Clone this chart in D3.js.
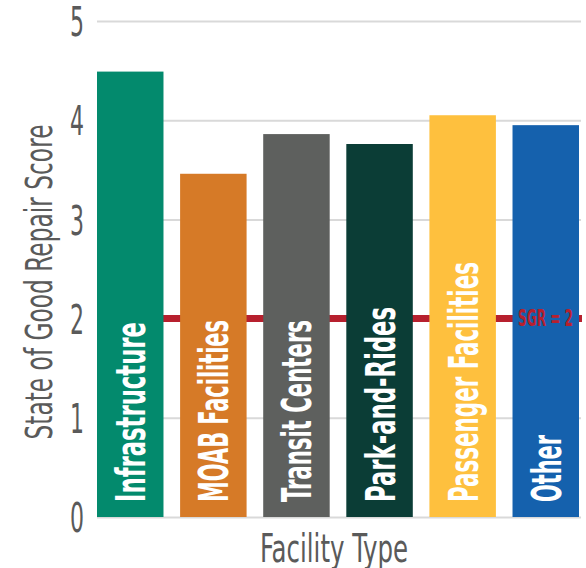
<!DOCTYPE html>
<html>
<head>
<meta charset="utf-8">
<script src="https://cdn.jsdelivr.net/npm/d3@7"></script>
<style>
  body { margin: 0; background: #fff; }
  svg text { font-family: "Liberation Sans Narrow", "DejaVu Sans Condensed", "Roboto", sans-serif; }
</style>
</head>
<body>
<script>
var width = 586,
    height = 568;

// data
var categories = ["Infrastructure", "MOAB Facilities", "Transit Centers", "Park-and-Rides", "Passenger Facilities", "Other"];
var scores = [4.49, 3.46, 3.86, 3.76, 4.05, 3.95];
var barColors = ["#038a6d", "#d67a27", "#5e605e", "#0b3d36", "#fec03e", "#1561ad"];
var yTicks = [0, 1, 2, 3, 4, 5];
var sgrValue = 2;
var sgrLabel = "SGR = 2";

// the original uses a very narrow face, so text lengths are pinned
var labelLength = [180, 182, 182, 195, 240, 67];

var margin = {left: 97, right: 4, top: 21, bottom: 51};

var x = d3.scaleBand()
  .domain(categories)
  .range([margin.left, 579])
  .paddingInner(0.2)
  .paddingOuter(0);

var y = d3.scaleLinear()
  .domain([0, 5])
  .range([height - margin.bottom, margin.top]);

var svg = d3.select("body").append("svg")
  .attr("width", width)
  .attr("height", height);

// gridlines + tick labels
var yAxis = svg.append("g")
  .attr("transform", "translate(" + margin.left + ",0)")
  .call(d3.axisLeft(y).tickValues(yTicks).tickFormat(d3.format("d"))
    .tickSize(-(width - margin.right - margin.left - 1)).tickPadding(13));
yAxis.select(".domain").remove();
yAxis.selectAll(".tick line")
  .attr("stroke", "#d9d9d9")
  .attr("stroke-width", 2);
yAxis.selectAll(".tick text")
  .attr("fill", "#5a5a5a")
  .attr("font-size", 41)
  .attr("dy", "0.36em")
  .attr("textLength", 14)
  .attr("lengthAdjust", "spacingAndGlyphs");

// SGR reference line (sits behind the bars)
svg.append("line")
  .attr("x1", margin.left)
  .attr("x2", width - margin.right)
  .attr("y1", y(sgrValue))
  .attr("y2", y(sgrValue))
  .attr("stroke", "#b7202e")
  .attr("stroke-width", 7);

svg.append("g")
  .selectAll("rect")
  .data(categories)
  .enter()
    .append("rect")
      .attr("x", function(d) { return x(d); })
      .attr("y", function(d, i) { return y(scores[i]); })
      .attr("width", x.bandwidth())
      .attr("height", function(d, i) { return y(0) - y(scores[i]); })
      .attr("fill", function(d, i) { return barColors[i]; });

// rotated labels inside the bars
svg.append("g")
  .selectAll("text")
  .data(categories)
  .enter()
    .append("text")
      .attr("transform", function(d) {
        return "translate(" + (x(d) + x.bandwidth() / 2 + 15) + "," + (y(0) - 15) + ") rotate(-90)";
      })
      .attr("fill", "#fff")
      .attr("font-weight", "bold")
      .attr("font-size", 41)
      .attr("textLength", function(d, i) { return labelLength[i]; })
      .attr("lengthAdjust", "spacingAndGlyphs")
      .text(function(d) { return d; });

svg.append("text")
  .attr("x", 545.5)
  .attr("y", y(sgrValue) + 7)
  .attr("text-anchor", "middle")
  .attr("fill", "#b7202e")
  .attr("font-weight", "bold")
  .attr("font-size", 23)
  .attr("textLength", 55)
  .attr("lengthAdjust", "spacingAndGlyphs")
  .text(sgrLabel);

// axis titles
svg.append("text")
  .attr("transform", "translate(52," + 282 + ") rotate(-90)")
  .attr("text-anchor", "middle")
  .attr("fill", "#5a5a5a")
  .attr("font-size", 37)
  .attr("textLength", 315)
  .attr("lengthAdjust", "spacingAndGlyphs")
  .text("State of Good Repair Score");

svg.append("text")
  .attr("x", 334)
  .attr("y", 562)
  .attr("text-anchor", "middle")
  .attr("fill", "#5a5a5a")
  .attr("font-size", 39)
  .attr("textLength", 148)
  .attr("lengthAdjust", "spacingAndGlyphs")
  .text("Facility Type");
</script>
</body>
</html>
